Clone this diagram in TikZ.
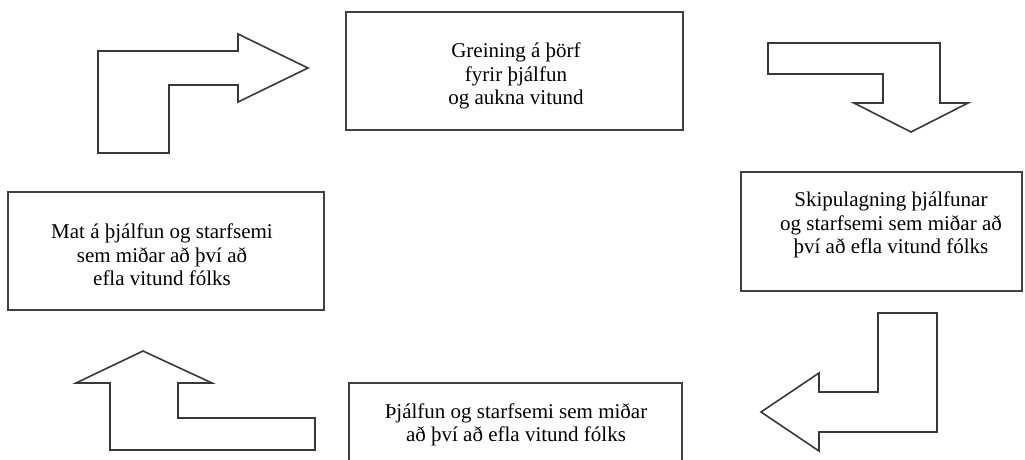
\documentclass[tikz,border=0pt]{standalone}
\usepackage{fontspec}
\setmainfont{Liberation Serif}
\begin{document}
\begin{tikzpicture}[x=1pt,y=-1pt,
  stagebox/.style={draw=black!75,line width=1.3pt,fill=white},
  stagetext/.style={align=center,inner sep=0pt,font=\fontsize{21}{23.5}\selectfont},
  bentarrow/.style={draw=black!78,line width=1.6pt,line join=miter,fill=white}]
  \useasboundingbox (0,0) rectangle (1025,459);
  \clip (0,0) rectangle (1025,459);

  % stage boxes
  \draw[stagebox] (346,12) rectangle (683,130) coordinate (topbox);
  \draw[stagebox] (741,172) rectangle (1022,291) coordinate (rightbox);
  \draw[stagebox] (349,383) rectangle (682,480) coordinate (bottombox);
  \draw[stagebox] (8,192) rectangle (324,310) coordinate (leftbox);

  % stage texts
  \node[stagetext] (t1) at (516,76) {Greining á þörf\\fyrir þjálfun\\og aukna vitund};
  \node[stagetext] (t2) at (891,225) {Skipulagning þjálfunar\\og starfsemi sem miðar að\\því að efla vitund fólks};
  \node[stagetext] (t3) at (516,425) {Þjálfun og starfsemi sem miðar\\að því að efla vitund fólks};
  \node[stagetext] (t4) at (162,255) {Mat á þjálfun og starfsemi\\sem miðar að því að\\efla vitund fólks};

  % bent block arrows of the cycle
  \draw[bentarrow] (98,153) -- (98,51) -- (238,51) -- (238,34) -- (308,68)
    -- (238,102) -- (238,85) -- (169,85) -- (169,153) -- cycle;
  \draw[bentarrow] (768,43) -- (940,43) -- (940,103) -- (968,103) -- (911,132)
    -- (854,103) -- (883,103) -- (883,74) -- (768,74) -- cycle;
  \draw[bentarrow] (878,313) -- (937,313) -- (937,432) -- (819,432) -- (819,451)
    -- (761,412) -- (819,373) -- (819,392) -- (878,392) -- cycle;
  \draw[bentarrow] (110,450) -- (110,383) -- (76,383) -- (143,351) -- (212,383)
    -- (178,383) -- (178,418) -- (315,418) -- (315,450) -- cycle;
\end{tikzpicture}
\end{document}
